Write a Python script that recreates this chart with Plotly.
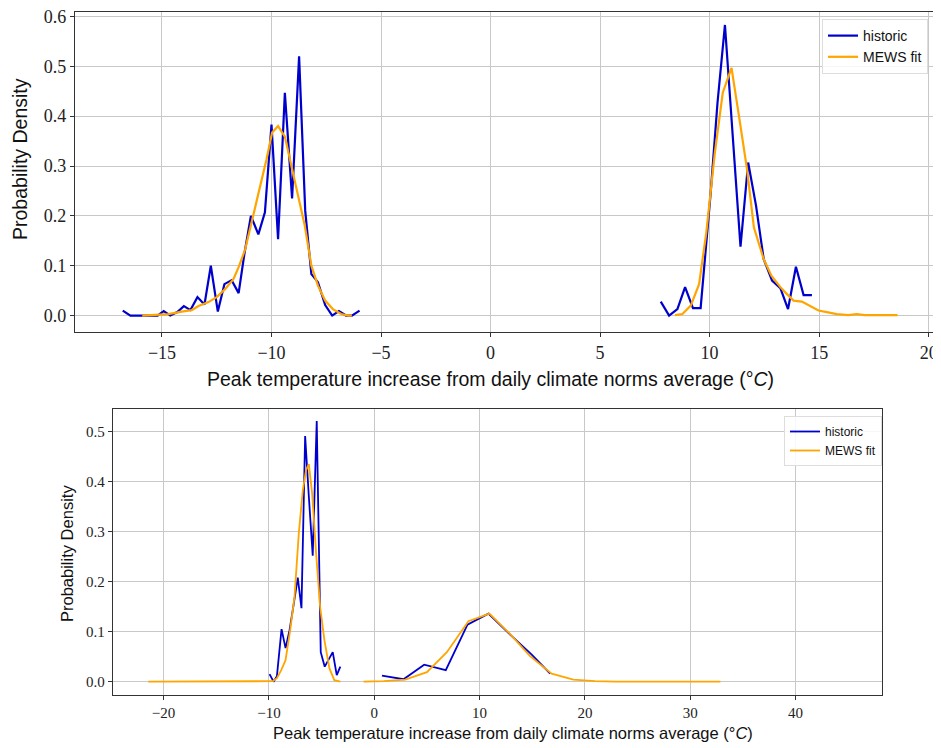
import plotly.graph_objects as go

# ---------------- data: top panel ----------------
top_hist_x = [-16.79, -16.44, -16.1, -15.8, -15.5, -15.2, -14.92, -14.62, -14.3, -14.0, -13.7, -13.38,
              -13.06, -12.77, -12.45, -12.15, -11.82, -11.5, -11.24, -10.94, -10.6, -10.3, -10.0, -9.7,
              -9.39, -9.06, -8.74, -8.46, -8.18, -7.88, -7.55, -7.23, -6.92, -6.6, -6.33, -5.98,
              None,
              7.77, 8.15, 8.53, 8.88, 9.24, 9.59, 10.05, 10.36, 10.7, 11.06, 11.41, 11.76, 12.12, 12.47,
              12.85, 13.23, 13.58, 13.94, 14.29, 14.67]
top_hist_y = [0.01, 0.0, 0.0, 0.0, 0.0, 0.0, 0.009, 0.0, 0.007, 0.019, 0.011, 0.037,
              0.022, 0.1, 0.008, 0.063, 0.071, 0.045, 0.123, 0.2, 0.163, 0.207, 0.383, 0.153,
              0.447, 0.235, 0.52, 0.21, 0.083, 0.067, 0.021, 0.0, 0.009, 0.0, 0.0, 0.01,
              None,
              0.028, 0.0, 0.013, 0.057, 0.015, 0.015, 0.247, 0.427, 0.583, 0.36, 0.138, 0.307, 0.22, 0.113,
              0.07, 0.055, 0.013, 0.098, 0.041, 0.041]

top_fit_x = [-15.9, -15.2, -14.7, -14.1, -13.64, -13.33, -12.88, -12.5, -12.12, -11.74, -11.5, -11.2,
             -10.83, -10.53, -10.23, -9.97, -9.7, -9.39, -9.09, -8.79, -8.48, -8.18, -7.88, -7.55,
             -7.2, -6.82, -6.5, -6.33,
             None,
             8.42, 8.76, 9.14, 9.52, 9.85, 10.24, 10.6, 11.0, 11.33, 11.71, 12.02, 12.47, 12.82, 13.23,
             13.53, 13.83, 14.21, 14.59, 14.97, 15.35, 15.8, 16.33, 16.71, 17.09, 17.85, 18.58]
top_fit_y = [0.0, 0.001, 0.003, 0.008, 0.011, 0.019, 0.027, 0.037, 0.053, 0.073, 0.097, 0.133,
             0.2, 0.253, 0.313, 0.367, 0.38, 0.359, 0.3, 0.24, 0.18, 0.1, 0.06, 0.03,
             0.013, 0.003, 0.0, 0.0,
             None,
             0.001, 0.003, 0.02, 0.063, 0.167, 0.327, 0.447, 0.497, 0.403, 0.293, 0.177, 0.113, 0.08, 0.057,
             0.043, 0.03, 0.028, 0.019, 0.01, 0.007, 0.003, 0.001, 0.003, 0.001, 0.001, 0.001]

# ---------------- data: bottom panel ----------------
bot_hist_x = [-9.94, -9.56, -9.24, -8.8, -8.42, -8.04, -7.63, -7.26, -6.91, -6.56, -6.21, -5.84,
              -5.46, -5.08, -4.7, -4.32, -3.94, -3.56, -3.22,
              None,
              0.73, 2.78, 4.74, 6.79, 8.85, 10.84, 12.9, 14.95, 16.7]
bot_hist_y = [0.015, 0.0, 0.011, 0.105, 0.067, 0.103, 0.157, 0.208, 0.147, 0.491, 0.37, 0.252,
              0.521, 0.059, 0.03, 0.045, 0.059, 0.013, 0.03,
              None,
              0.012, 0.005, 0.034, 0.023, 0.114, 0.136, 0.094, 0.054, 0.016]

bot_fit_x = [-21.45, -18.5, -15.5, -12.5, -10.25, -9.62, -9.24, -8.83, -8.42, -7.98, -7.57, -7.16,
             -6.78, -6.47, -6.21, -5.9, -5.52, -5.14, -4.73, -4.26, -3.79, -3.22,
             None,
             -1.01, 0.9, 2.94, 5.0, 6.89, 8.94, 10.93, 12.9, 14.79, 16.84, 18.9, 20.95, 23.0,
             25.0, 27.0, 29.0, 31.0, 32.86]
bot_fit_y = [0.0, 0.0, 0.0, 0.0, 0.0, 0.001, 0.007, 0.023, 0.043, 0.103, 0.17, 0.297,
             0.383, 0.423, 0.435, 0.377, 0.257, 0.15, 0.083, 0.027, 0.003, 0.0,
             None,
             0.0, 0.001, 0.004, 0.019, 0.059, 0.121, 0.136, 0.095, 0.051, 0.016, 0.004, 0.001, 0.0,
             0.0, 0.0, 0.0, 0.0, 0.0]

top_xticks = [-15, -10, -5, 0, 5, 10, 15, 20]
top_yticks = [0.0, 0.1, 0.2, 0.3, 0.4, 0.5, 0.6]
bot_xticks = [-20, -10, 0, 10, 20, 30, 40]
bot_yticks = [0.0, 0.1, 0.2, 0.3, 0.4, 0.5]

x_label = "Peak temperature increase from daily climate norms average (°<i>C</i>)"
y_label = "Probability Density"
series_names = ["historic", "MEWS fit"]
BLUE = "#0000CD"
ORANGE = "#FFA500"

# the page body has an 8px margin; figure sized so it ends at the window edge
OFF = 8
W, H = 941 - OFF, 748 - OFF

def fx(px):
    return (px - OFF) / W

def fy(py):
    return 1 - (py - OFF) / H

fig = go.Figure()

fig.add_trace(go.Scatter(x=top_hist_x, y=top_hist_y, mode="lines", name=series_names[0],
                         line=dict(color=BLUE, width=2.2), xaxis="x", yaxis="y", legend="legend"))
fig.add_trace(go.Scatter(x=top_fit_x, y=top_fit_y, mode="lines", name=series_names[1],
                         line=dict(color=ORANGE, width=2.2), xaxis="x", yaxis="y", legend="legend"))
fig.add_trace(go.Scatter(x=bot_hist_x, y=bot_hist_y, mode="lines", name=series_names[0],
                         line=dict(color=BLUE, width=1.8), xaxis="x2", yaxis="y2", legend="legend2"))
fig.add_trace(go.Scatter(x=bot_fit_x, y=bot_fit_y, mode="lines", name=series_names[1],
                         line=dict(color=ORANGE, width=1.8), xaxis="x2", yaxis="y2", legend="legend2"))

tick_font_top = dict(family="Liberation Serif, DejaVu Serif, serif", size=18, color="#222")
tick_font_bot = dict(family="Liberation Serif, DejaVu Serif, serif", size=15, color="#222")
axis_common = dict(showline=True, linecolor="#333", linewidth=1.3, mirror=True,
                   showgrid=True, gridcolor="#c8c8c8", gridwidth=1.2, zeroline=False,
                   ticks="outside", ticklen=4, tickcolor="#333", automargin=False,
                   ticklabeloverflow="allow")

fig.update_layout(
    width=W, height=H,
    margin=dict(l=0, r=0, t=0, b=0, autoexpand=False),
    paper_bgcolor="white", plot_bgcolor="white",
    xaxis=dict(domain=[fx(75), fx(937)], range=[-18.97, 20.38], tickvals=top_xticks,
               ticktext=["−15", "−10", "−5", "0", "5", "10", "15", "20"],
               tickfont=tick_font_top, anchor="y", **axis_common),
    yaxis=dict(domain=[fy(332), fy(12)], range=[-0.033, 0.609], tickvals=top_yticks,
               ticktext=["0.0", "0.1", "0.2", "0.3", "0.4", "0.5", "0.6"],
               tickfont=tick_font_top, anchor="x", **axis_common),
    xaxis2=dict(domain=[fx(113), fx(882)], range=[-24.8, 48.2], tickvals=bot_xticks,
                ticktext=["−20", "−10", "0", "10", "20", "30", "40"],
                tickfont=tick_font_bot, anchor="y2", **axis_common),
    yaxis2=dict(domain=[fy(695), fy(409)], range=[-0.0266, 0.545], tickvals=bot_yticks,
                ticktext=["0.0", "0.1", "0.2", "0.3", "0.4", "0.5"],
                tickfont=tick_font_bot, anchor="x2", **axis_common),
    legend=dict(x=fx(822), y=fy(19), xanchor="left", yanchor="top",
                bgcolor="rgba(255,255,255,0.85)", bordercolor="#dddddd", borderwidth=1,
                font=dict(family="Liberation Sans, Arial, sans-serif", size=14, color="#111"),
                itemwidth=30, tracegroupgap=0),
    legend2=dict(x=fx(784), y=fy(416), xanchor="left", yanchor="top",
                 bgcolor="rgba(255,255,255,0.85)", bordercolor="#dddddd", borderwidth=1,
                 font=dict(family="Liberation Sans, Arial, sans-serif", size=12, color="#111"),
                 itemwidth=30, tracegroupgap=0),
    showlegend=True,
)

label_font_top = dict(family="Liberation Sans, Arial, sans-serif", size=19.5, color="#111")
label_font_bot = dict(family="Liberation Sans, Arial, sans-serif", size=16.5, color="#111")
fig.add_annotation(text=x_label, x=fx(490), y=fy(379), xref="paper", yref="paper",
                   showarrow=False, font=label_font_top, xanchor="center", yanchor="middle")
fig.add_annotation(text=y_label, x=fx(20), y=fy(159), xref="paper", yref="paper",
                   showarrow=False, font=label_font_top, textangle=-90, xanchor="center", yanchor="middle")
fig.add_annotation(text=x_label, x=fx(513), y=fy(733), xref="paper", yref="paper",
                   showarrow=False, font=label_font_bot, xanchor="center", yanchor="middle")
fig.add_annotation(text=y_label, x=fx(67), y=fy(554), xref="paper", yref="paper",
                   showarrow=False, font=label_font_bot, textangle=-90, xanchor="center", yanchor="middle")

fig.write_html("out.html")
